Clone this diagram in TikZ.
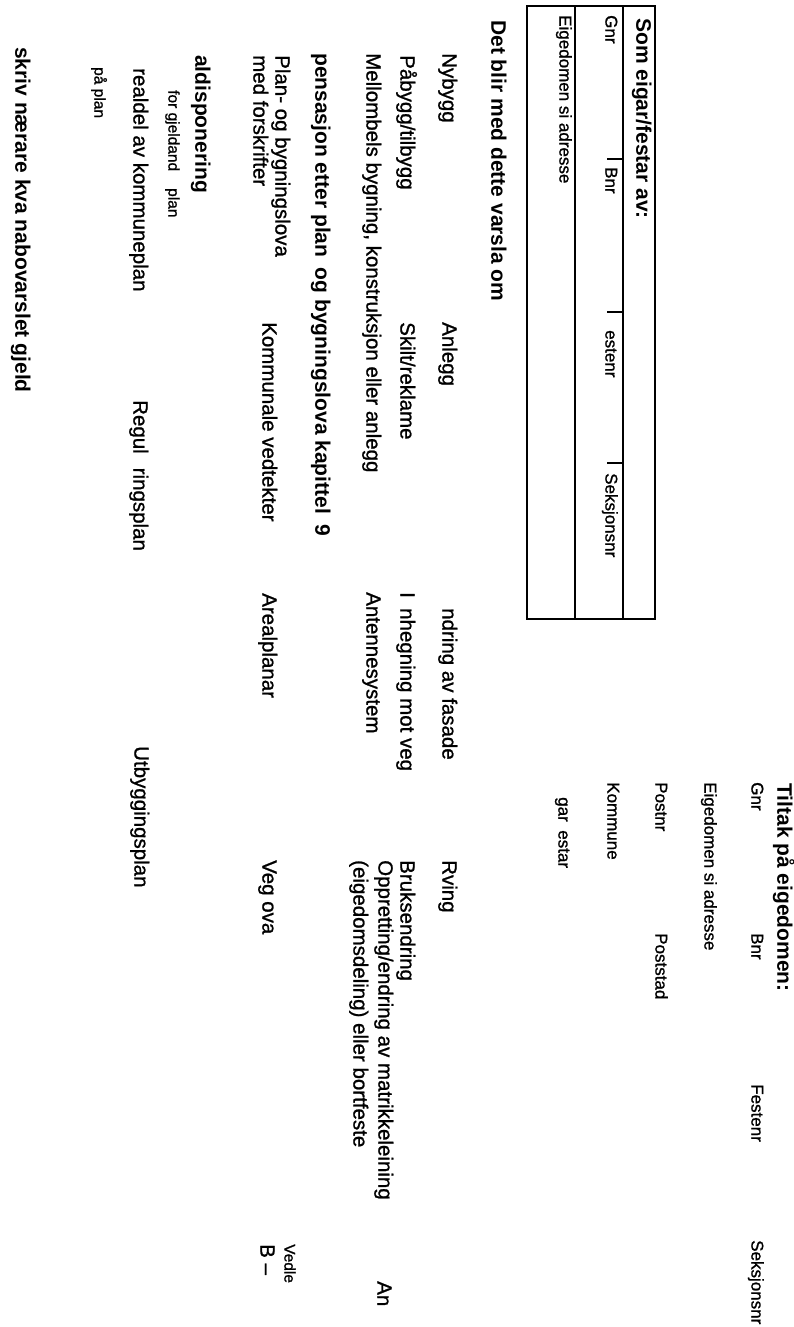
\documentclass[tikz,border=0pt]{standalone}
\usepackage{fontspec}
\setmainfont{Liberation Sans}
\newfontfamily\scanfont{Liberation Sans}[FakeBold=1.1]
\begin{document}
\begin{tikzpicture}[x=1pt,y=-1pt,
    txt/.style  = {rotate=-90,anchor=west,inner sep=0pt,text height=0.72em,text depth=0.21em,
                   font=\fontsize{20.5}{22}\scanfont},
    head/.style = {txt,font=\fontsize{21}{24}\selectfont\bfseries},
    lab/.style  = {txt,font=\fontsize{17}{19}\scanfont},
    tiny/.style = {txt,font=\fontsize{15.5}{17}\scanfont}]
\useasboundingbox (0,0) rectangle (794,1327);
% Tiltak paa eigedomen
\node[head] (tiltak) at (780,783) {Tiltak på eigedomen:};
\foreach \y/\t [count=\j] in {782/Gnr, 933/Bnr, 1084/Festenr, 1240/Seksjonsnr}
    \node[lab] (tg\j) at (754,\y) {\t};
\node[lab] (tadr) at (707,782) {Eigedomen si adresse};
\node[lab] (tpnr) at (658,782) {Postnr};
\node[lab] (tpst) at (658,933) {Poststad};
\node[lab] (tkom) at (610,782) {Kommune};
\node[lab] (tgar) at (561,797) {gar\enspace estar};
% Som eigar/festar av
\draw[line width=1.1pt] (527,6) rectangle (655,619);
\draw[line width=1.1pt] (623,6) -- (623,619);
\draw[line width=1.1pt] (575,6) -- (575,619);
\foreach \y in {159,312,463}
    \draw[line width=1.1pt] (607,\y) -- (623,\y);
\node[head] (eigar) at (639,18) {Som eigar/festar av:};
\foreach \y/\t [count=\j] in {15/Gnr, 167/Bnr, 330/estenr, 473/Seksjonsnr}
    \node[lab] (eg\j) at (608,\y) {\t};
\node[lab] (eadr) at (562,15) {Eigedomen si adresse};
% Det blir med dette varsla om
\node[head] (varsla) at (494,20) {Det blir med dette varsla om};
\foreach \y/\t [count=\j] in {53/{Nybygg}, 322/{Anlegg}, 608/{ndring av fasade}, 860/{Rving}}
    \node[txt] (ra\j) at (445,\y) {\t};
\foreach \y/\t [count=\j] in {55/{Påbygg/tilbygg}, 322/{Skilt/reklame}, 592/{I\enspace nhegning mot veg}, 860/{Bruksendring}}
    \node[txt] (rb\j) at (403,\y) {\t};
\foreach \y/\t [count=\j] in {53/{Mellombels bygning, konstruksjon eller anlegg}, 592/{Antennesystem}}
    \node[txt] (rc\j) at (369,\y) {\t};
\node[txt] (rc3) at (381,860) {Oppretting/endring av matrikkeleining};
\node[txt] (rc4) at (356,860) {(eigedomsdeling) eller bortfeste};
\node[txt] (rc5) at (380,1281) {An};
% Dispensasjon
\node[head] (disp) at (318,53) {pensasjon etter plan\enspace og bygningslova kapittel\enspace 9};
\node[txt] (pbl1) at (278,55) {Plan- og bygningslova};
\node[txt] (pbl2) at (256,55) {med forskrifter};
\foreach \y/\t [count=\j] in {322/{Kommunale vedtekter}, 593/{Arealplanar}, 860/{Veg ova}}
    \node[txt] (rd\j) at (265,\y) {\t};
\node[tiny] (vedl) at (287,1244) {Vedle};
\node[txt] (bdash) at (263,1244) {B –};
% Arealdisponering
\node[head] (areal) at (198,55) {aldisponering};
\node[tiny] (gjeld) at (171,90) {for gjeldand\hspace{17pt}plan};
\node[txt] (re1) at (136,68) {realdel av kommuneplan};
\node[txt] (re2) at (136,400) {Regul\hspace{14pt}ringsplan};
\node[txt] (re3) at (137,746) {Utbyggingsplan};
\node[tiny] (paplan) at (97,67) {på plan};
% Nabovarsel
\node[head] (skriv) at (18,47) {skriv nærare kva nabovarslet gjeld};
\end{tikzpicture}
\end{document}
